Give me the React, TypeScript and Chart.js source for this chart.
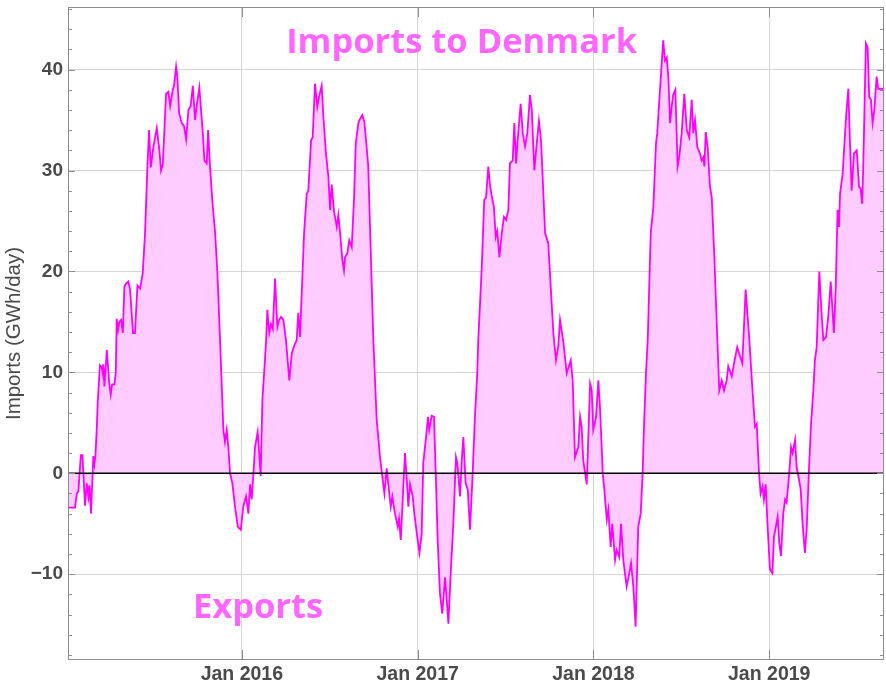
import React, { useEffect, useRef } from 'react';
import { Chart, registerables } from 'chart.js';

Chart.register(...registerables);

// Decimal-year dates of the sampled points
const dates = [
  2015.011, 2015.051, 2015.061, 2015.070, 2015.084, 2015.093, 2015.108, 2015.118, 2015.127, 2015.133,
  2015.142, 2015.155, 2015.161, 2015.167, 2015.175, 2015.180, 2015.193, 2015.203, 2015.209, 2015.212,
  2015.218, 2015.232, 2015.245, 2015.254, 2015.262, 2015.275, 2015.283, 2015.288, 2015.296, 2015.303,
  2015.313, 2015.323, 2015.332, 2015.341, 2015.354, 2015.364, 2015.381, 2015.392, 2015.406, 2015.421,
  2015.436, 2015.449, 2015.462, 2015.472, 2015.482, 2015.497, 2015.516, 2015.531, 2015.540, 2015.550,
  2015.569, 2015.582, 2015.592, 2015.607, 2015.614, 2015.626, 2015.633, 2015.643, 2015.658, 2015.671,
  2015.683, 2015.696, 2015.709, 2015.721, 2015.734, 2015.743, 2015.758, 2015.778, 2015.787, 2015.800,
  2015.808, 2015.819, 2015.832, 2015.848, 2015.861, 2015.876, 2015.895, 2015.904, 2015.914, 2015.923,
  2015.933, 2015.946, 2015.961, 2015.977, 2015.994, 2016.008, 2016.024, 2016.037, 2016.047, 2016.056,
  2016.065, 2016.075, 2016.090, 2016.098, 2016.107, 2016.117, 2016.132, 2016.138, 2016.145, 2016.156,
  2016.166, 2016.176, 2016.189, 2016.202, 2016.212, 2016.223, 2016.236, 2016.251, 2016.270, 2016.284,
  2016.297, 2016.312, 2016.321, 2016.331, 2016.354, 2016.369, 2016.378, 2016.394, 2016.403, 2016.416,
  2016.429, 2016.439, 2016.454, 2016.464, 2016.477, 2016.492, 2016.502, 2016.511, 2016.524, 2016.540,
  2016.549, 2016.559, 2016.572, 2016.581, 2016.587, 2016.600, 2016.611, 2016.625, 2016.638, 2016.648,
  2016.663, 2016.672, 2016.685, 2016.697, 2016.710, 2016.719, 2016.733, 2016.748, 2016.767, 2016.786,
  2016.801, 2016.811, 2016.824, 2016.833, 2016.847, 2016.856, 2016.871, 2016.887, 2016.894, 2016.904,
  2016.915, 2016.928, 2016.938, 2016.947, 2016.957, 2016.972, 2016.981, 2016.995, 2017.010, 2017.023,
  2017.032, 2017.052, 2017.059, 2017.066, 2017.080, 2017.093, 2017.103, 2017.114, 2017.127, 2017.140,
  2017.156, 2017.175, 2017.188, 2017.203, 2017.218, 2017.226, 2017.241, 2017.251, 2017.260, 2017.273,
  2017.285, 2017.298, 2017.313, 2017.326, 2017.339, 2017.345, 2017.365, 2017.379, 2017.389, 2017.402,
  2017.412, 2017.421, 2017.434, 2017.444, 2017.453, 2017.465, 2017.478, 2017.491, 2017.503, 2017.516,
  2017.525, 2017.541, 2017.550, 2017.560, 2017.567, 2017.586, 2017.598, 2017.611, 2017.624, 2017.639,
  2017.649, 2017.664, 2017.677, 2017.690, 2017.702, 2017.725, 2017.743, 2017.772, 2017.787, 2017.800,
  2017.810, 2017.829, 2017.848, 2017.871, 2017.882, 2017.895, 2017.914, 2017.924, 2017.933, 2017.942,
  2017.962, 2017.981, 2017.990, 2017.999, 2018.015, 2018.028, 2018.037, 2018.047, 2018.053, 2018.062,
  2018.076, 2018.085, 2018.098, 2018.107, 2018.123, 2018.132, 2018.147, 2018.157, 2018.170, 2018.189,
  2018.204, 2018.214, 2018.227, 2018.240, 2018.255, 2018.269, 2018.280, 2018.288, 2018.299, 2018.309,
  2018.326, 2018.341, 2018.356, 2018.363, 2018.379, 2018.397, 2018.407, 2018.417, 2018.426, 2018.436,
  2018.445, 2018.454, 2018.466, 2018.479, 2018.488, 2018.502, 2018.517, 2018.531, 2018.545, 2018.559,
  2018.568, 2018.578, 2018.591, 2018.606, 2018.616, 2018.625, 2018.631, 2018.639, 2018.650, 2018.663,
  2018.673, 2018.688, 2018.705, 2018.716, 2018.730, 2018.743, 2018.758, 2018.767, 2018.787, 2018.800,
  2018.818, 2018.834, 2018.847, 2018.866, 2018.887, 2018.906, 2018.919, 2018.929, 2018.942, 2018.951,
  2018.962, 2018.970, 2018.980, 2018.989, 2019.004, 2019.018, 2019.027, 2019.038, 2019.048, 2019.057,
  2019.067, 2019.080, 2019.090, 2019.099, 2019.114, 2019.124, 2019.133, 2019.147, 2019.156, 2019.169,
  2019.179, 2019.190, 2019.203, 2019.213, 2019.226, 2019.238, 2019.251, 2019.260, 2019.270, 2019.285,
  2019.298, 2019.308, 2019.323, 2019.336, 2019.350, 2019.368, 2019.378, 2019.389, 2019.397, 2019.403,
  2019.418, 2019.437, 2019.450, 2019.459, 2019.469, 2019.482, 2019.498, 2019.511, 2019.520, 2019.529,
  2019.535, 2019.550, 2019.560, 2019.569, 2019.579, 2019.588, 2019.598, 2019.611, 2019.620, 2019.653,
];

// Net imports to Denmark, GWh/day (negative = exports)
const imports = [
  -3.4, -3.4, -2.0, -1.8, 1.8, 1.8, -3.2, -1.0, -2.3, -1.2,
  -4.0, 1.7, 0.9, 1.7, 4.6, 7.0, 10.7, 10.5, 9.9, 10.8,
  8.6, 12.2, 9.0, 7.8, 8.8, 8.8, 10.0, 15.3, 14.2, 15.0,
  15.2, 13.9, 18.5, 18.8, 19.0, 18.2, 13.9, 13.9, 18.6, 18.3,
  19.8, 23.7, 30.0, 34.0, 30.3, 32.4, 34.2, 32.0, 30.0, 30.6,
  37.6, 37.8, 36.4, 38.0, 38.4, 40.3, 39.3, 35.7, 34.7, 34.4,
  33.1, 36.0, 36.4, 38.4, 35.0, 36.4, 38.2, 33.7, 31.0, 30.7,
  34.0, 30.4, 27.0, 23.8, 19.8, 13.2, 4.3, 3.1, 4.3, 2.6,
  0.0, -1.0, -3.3, -5.3, -5.6, -3.3, -2.3, -4.0, -1.1, -2.6,
  -0.3, 2.6, 4.1, 2.2, -0.3, 7.3, 11.4, 13.2, 16.2, 13.9,
  14.8, 14.3, 19.3, 14.5, 15.2, 15.5, 15.2, 13.2, 9.2, 11.9,
  12.6, 13.2, 15.9, 13.5, 23.8, 27.7, 28.0, 33.0, 33.3, 38.6,
  36.3, 37.3, 38.4, 35.3, 32.0, 29.4, 26.1, 28.6, 26.0, 24.4,
  25.6, 23.8, 21.1, 20.1, 21.4, 21.8, 23.1, 22.4, 27.1, 32.7,
  34.7, 35.1, 35.5, 34.8, 32.3, 30.4, 22.1, 13.2, 5.3, 1.6,
  -0.6, -2.0, 0.5, -1.1, -3.3, -2.3, -4.0, -5.3, -4.5, -6.6,
  -2.7, 2.0, -0.6, -3.3, -1.1, -2.3, -4.0, -5.9, -7.9, -6.0,
  1.0, 4.3, 5.6, 4.3, 5.7, 5.6, 0.0, -6.6, -11.9, -13.9,
  -10.3, -14.9, -9.9, -5.0, 1.6, 1.0, -2.3, 1.3, 3.6, -1.0,
  -1.6, -5.6, 0.0, 5.6, 9.9, 13.2, 20.5, 27.1, 27.3, 30.4,
  28.5, 27.5, 26.4, 23.4, 24.0, 21.4, 23.7, 25.4, 25.1, 26.1,
  30.7, 31.0, 34.7, 30.7, 32.6, 36.6, 33.7, 32.4, 33.7, 37.5,
  36.1, 30.0, 32.6, 34.9, 33.0, 23.8, 22.8, 13.9, 11.2, 12.6,
  15.2, 13.0, 9.9, 11.2, 9.2, 1.6, 2.6, 5.6, 4.6, 1.3,
  -1.1, 8.9, 8.3, 4.3, 5.6, 9.2, 6.6, 2.6, 0.0, -1.6,
  -4.6, -3.6, -7.3, -5.0, -8.6, -7.6, -8.3, -5.0, -8.6, -11.2,
  -9.9, -8.9, -11.2, -15.2, -5.3, -4.0, 0.0, 4.9, 9.9, 13.2,
  23.8, 26.4, 32.7, 33.7, 38.1, 42.9, 40.9, 41.2, 39.3, 34.7,
  36.3, 37.5, 38.0, 30.4, 31.3, 33.7, 37.6, 34.0, 33.3, 37.0,
  33.7, 35.0, 32.3, 31.7, 31.0, 31.3, 30.4, 33.8, 32.3, 28.4,
  27.4, 21.4, 13.2, 8.2, 9.2, 8.2, 9.2, 10.6, 9.6, 10.9,
  12.5, 11.6, 10.9, 18.2, 13.2, 7.9, 4.6, 4.9, 0.0, -2.0,
  -1.3, -2.6, -1.1, -4.6, -9.5, -9.9, -6.3, -5.3, -4.3, -6.9,
  -8.2, -4.0, -2.6, -2.9, 0.0, 2.6, 2.0, 3.3, 0.6, -0.6,
  -1.6, -5.0, -7.9, -5.6, 0.3, 4.9, 8.2, 11.2, 12.5, 20.0,
  15.8, 13.2, 13.5, 15.6, 19.0, 13.9, 18.2, 26.1, 24.4, 27.7,
  29.7, 35.3, 38.1, 33.0, 28.0, 31.7, 32.0, 28.4, 28.2, 26.7,
  30.4, 42.6, 42.2, 37.3, 37.0, 34.7, 36.0, 39.3, 38.1, 38.1,
];

const yTickValues = [-10, 0, 10, 20, 30, 40];
const xTickYears = [2016, 2017, 2018, 2019];
const xTickLabels = ['Jan 2016', 'Jan 2017', 'Jan 2018', 'Jan 2019'];
const yMinorStep = 2;
const xRange = [2015.011, 2019.653];
const yRange = [-18.5, 46.2];
const yTitle = 'Imports (GWh/day)';
const importsNote = { text: 'Imports to Denmark', x: 2017.25, y: 41.6 };
const exportsNote = { text: 'Exports', x: 2016.092, y: -14.3 };

const decorations = {
  id: 'decorations',
  afterDatasetsDraw(chart: any) {
    const { ctx, chartArea: a, scales } = chart;
    const x = scales.x;
    const y = scales.y;
    ctx.save();
    // zero line
    const y0 = y.getPixelForValue(0);
    ctx.strokeStyle = '#000';
    ctx.lineWidth = 1.5;
    ctx.beginPath();
    ctx.moveTo(a.left, y0);
    ctx.lineTo(a.right, y0);
    ctx.stroke();

    // frame
    ctx.strokeStyle = '#8c8c8c';
    ctx.lineWidth = 1;
    ctx.strokeRect(a.left + 0.5, a.top + 0.5, a.right - a.left - 1, a.bottom - a.top - 1);

    // inward ticks on y (left + right)
    for (let v = Math.ceil(yRange[0] / yMinorStep) * yMinorStep; v <= yRange[1]; v += yMinorStep) {
      const py = Math.round(y.getPixelForValue(v)) + 0.5;
      const major = yTickValues.includes(v);
      const len = major ? 7 : 4;
      ctx.beginPath();
      ctx.moveTo(a.left, py);
      ctx.lineTo(a.left + len, py);
      ctx.moveTo(a.right, py);
      ctx.lineTo(a.right - len, py);
      ctx.stroke();
    }
    // inward ticks on x (top + bottom)
    for (const yr of xTickYears) {
      const px = Math.round(x.getPixelForValue(yr)) + 0.5;
      ctx.beginPath();
      ctx.moveTo(px, a.bottom);
      ctx.lineTo(px, a.bottom - 10);
      ctx.moveTo(px, a.top);
      ctx.lineTo(px, a.top + 10);
      ctx.stroke();
    }

    // annotations
    ctx.fillStyle = '#FF66FF';
    ctx.textAlign = 'center';
    ctx.textBaseline = 'alphabetic';
    ctx.font = 'bold 34.5px "Open Sans"';
    ctx.fillText(importsNote.text, x.getPixelForValue(importsNote.x), y.getPixelForValue(importsNote.y));
    ctx.fillText(exportsNote.text, x.getPixelForValue(exportsNote.x), y.getPixelForValue(exportsNote.y));
    ctx.restore();
  },
};

export default function App() {
  const ref = useRef<HTMLCanvasElement>(null);
  useEffect(() => {
    document.body.style.margin = '0';
    const points = dates.map((d, i) => ({ x: d, y: imports[i] }));
    const chart = new Chart(ref.current as HTMLCanvasElement, {
      type: 'line',
      data: {
        datasets: [
          {
            data: points,
            borderColor: '#FF00FF',
            borderWidth: 1.8,
            backgroundColor: '#FFCCFF',
            fill: { value: 0 },
            pointRadius: 0,
            tension: 0,
          },
        ],
      },
      options: {
        responsive: false,
        animation: false,
        layout: { padding: { left: 0, right: 2, top: 7, bottom: 0 } },
        plugins: { legend: { display: false }, tooltip: { enabled: false } },
        scales: {
          x: {
            type: 'linear',
            min: xRange[0],
            max: xRange[1],
            border: { display: false },
            grid: { color: '#d4d4d4', lineWidth: 1, drawTicks: false },
            afterBuildTicks: (s: any) => {
              s.ticks = xTickYears.map((v) => ({ value: v }));
            },
            afterFit: (s: any) => {
              s.height = 32;
              s.paddingLeft = 0;
              s.paddingRight = 0;
            },
            ticks: {
              autoSkip: false,
              maxRotation: 0,
              padding: 3,
              color: '#4a4a4a',
              font: { family: '"Liberation Sans", Arial, sans-serif', size: 19.5, weight: 'bold' },
              callback: (v: any) => {
                const i = xTickYears.indexOf(Number(v));
                return i >= 0 ? xTickLabels[i] : '';
              },
            },
          },
          y: {
            min: yRange[0],
            max: yRange[1],
            border: { display: false },
            grid: {
              drawTicks: false,
              lineWidth: 1,
              color: (c: any) => (c.tick && c.tick.value === 0 ? 'rgba(0,0,0,0)' : '#d4d4d4'),
            },
            afterBuildTicks: (s: any) => {
              s.ticks = yTickValues.map((v) => ({ value: v }));
            },
            afterFit: (s: any) => {
              s.width = 68;
              s.paddingTop = 0;
              s.paddingBottom = 0;
            },
            title: {
              display: true,
              text: yTitle,
              color: '#4a4a4a',
              font: { family: '"Liberation Sans", Arial, sans-serif', size: 20.5 },
              padding: { top: 2, bottom: 0 },
            },
            ticks: {
              padding: 5,
              color: '#4a4a4a',
              font: { family: '"Liberation Sans", Arial, sans-serif', size: 19, weight: 'bold' },
              callback: (v: any) => (Number(v) < 0 ? '\u2212' + Math.abs(Number(v)) : String(v)),
            },
          },
        },
      },
      plugins: [decorations],
    });
    return () => chart.destroy();
  }, []);
  return (
    <div style={{ width: 886, height: 692 }}>
      <canvas ref={ref} width={886} height={692} />
    </div>
  );
}
